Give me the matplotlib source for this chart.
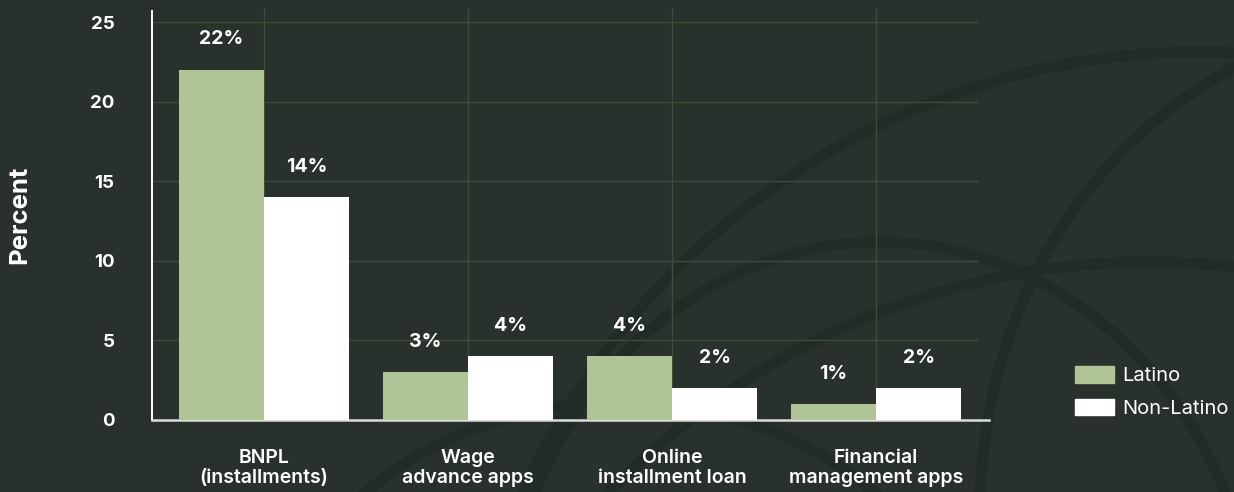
import matplotlib

matplotlib.use("Agg")
import matplotlib.pyplot as plt
from matplotlib.patches import Arc, Patch

plt.rcParams["font.family"] = ["Inter", "DejaVu Sans"]

categories = ["BNPL\n(installments)", "Wage\nadvance apps",
              "Online\ninstallment loan", "Financial\nmanagement apps"]
latino = [22, 3, 4, 1]
non_latino = [14, 4, 2, 2]
yticks = [0, 5, 10, 15, 20, 25]

BG = "#28312b"
GREEN = "#afc596"
WHITE = "#ffffff"
GRID = "#3e4c3b"
DECOR = "#222c26"

W, H = 1234, 492
fig = plt.figure(figsize=(W / 100, H / 100), dpi=100, facecolor=BG)

# faint globe outline behind the chart, in pixel coordinates
deco = fig.add_axes([0, 0, 1, 1], zorder=0)
deco.set_xlim(0, W)
deco.set_ylim(0, H)
deco.axis("off")
arcs = [
    ((1200, -300), 1480, 1480),   # outer rim
    ((1420, -20), 880, 980),      # meridian
    ((1700, -40), 900, 1000),     # second meridian
    ((1150, -520), 1500, 1500),   # parallel across the top
    ((880, -180), 760, 860),      # inner lower arc
    ((620, -260), 760, 700),      # lower left arc
]
for (cx, cy), w, h in arcs:
    deco.add_patch(Arc((cx, cy), w, h, color=DECOR, lw=8))

ax = fig.add_axes([152 / W, 72 / H, 837 / W, 409 / H], zorder=1)
ax.set_facecolor("none")

x = list(range(len(categories)))
width = 0.417
b1 = ax.bar([i - width / 2 for i in x], latino, width, color=GREEN,
            label="Latino", zorder=3)
b2 = ax.bar([i + width / 2 for i in x], non_latino, width, color=WHITE,
            label="Non-Latino", zorder=3)

for bars, vals in ((b1, latino), (b2, non_latino)):
    for bar, v in zip(bars, vals):
        ax.annotate(f"{v}%", (bar.get_x() + bar.get_width() / 2, v),
                    xytext=(0, 22), textcoords="offset points",
                    ha="center", va="center", color="white",
                    fontsize=14, fontweight="bold")

ax.set_xlim(-0.549, 3.554)
ax.set_ylim(0, 25.7)

# grid drawn by hand so the horizontals stop short of the axis end
ax.hlines(yticks[1:], -0.549, 3.5, color=GRID, lw=1, zorder=1)
ax.vlines(x, 0, 25.9, color=GRID, lw=1, zorder=1, clip_on=False)

ax.set_yticks(yticks)
ax.set_yticklabels([str(t) for t in yticks])
ax.set_xticks(x)
ax.set_xticklabels(categories, linespacing=1.1)
ax.tick_params(axis="y", length=0, pad=27, labelsize=13.5, labelcolor="white")
ax.tick_params(axis="x", length=0, pad=21, labelsize=14, labelcolor="white")
for lab in ax.get_yticklabels():
    lab.set_fontweight("bold")
for lab in ax.get_xticklabels():
    lab.set_fontweight("semibold")

for side in ("top", "right"):
    ax.spines[side].set_visible(False)
ax.spines["left"].set_color("white")
ax.spines["left"].set_linewidth(1.4)
ax.spines["bottom"].set_color("#dcdcdc")
ax.spines["bottom"].set_linewidth(1.8)

fig.text(20 / W, (H - 215) / H, "Percent", rotation=90, ha="center",
         va="center", color="white", fontsize=18.5, fontweight="bold")

handles = [Patch(color=GREEN), Patch(color=WHITE)]
fig.legend(handles, ["Latino", "Non-Latino"], loc="center left",
           bbox_to_anchor=(1075 / W, (H - 392) / H), frameon=False,
           fontsize=14.5, labelcolor="white", handlelength=1.95,
           handleheight=0.85, handletextpad=0.4, labelspacing=0.65,
           borderpad=0, borderaxespad=0)

fig.savefig("out.png", dpi=100, facecolor=BG)
